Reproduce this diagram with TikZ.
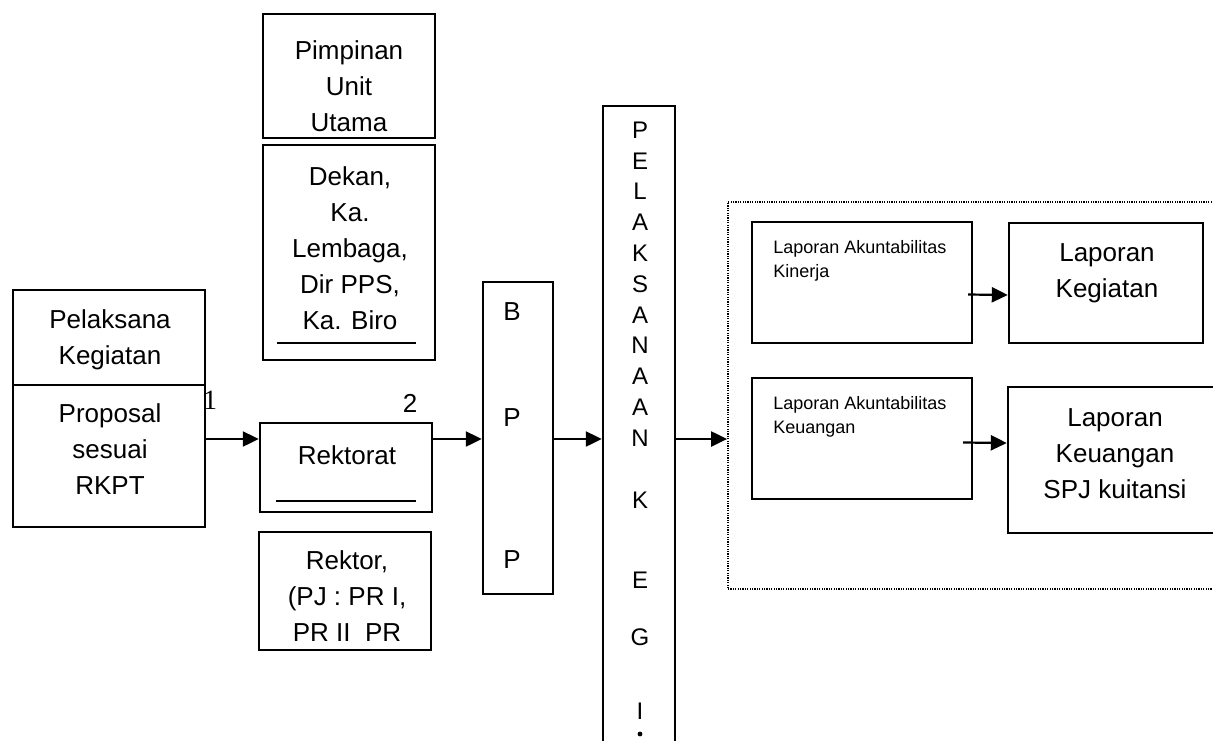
\documentclass[tikz,border=0pt]{standalone}
\usepackage{fontspec}
\setmainfont{Liberation Sans}
\newfontfamily\numfont{Liberation Serif}
\usetikzlibrary{arrows.meta}

\begin{document}
\begin{tikzpicture}[x=0.5pt,y=-0.5pt,
  box/.style={draw,line width=1.2pt,inner sep=0pt,minimum width=86pt},
  txt/.style={inner sep=0pt,align=center,font=\fontsize{13}{18}\selectfont},
  small/.style={inner sep=0pt,align=left,anchor=north west,font=\fontsize{9}{12}\selectfont},
  letter/.style={inner sep=0pt,align=center,font=\fontsize{12}{14}\selectfont},
  arr/.style={line width=1.1pt,-{Triangle[length=8pt,width=7.5pt]}}]
\useasboundingbox (0,0) rectangle (1213,740);
\clip (0,0) rectangle (1213,740);
% pelaksana kegiatan
\node[box,minimum width=96pt,minimum height=47.5pt] (pel) at (109,337.5) {};
\node[box,minimum width=96pt,minimum height=71pt] (prop) at (109,456) {};
\node[txt] (peltxt) at (110,340) {Pelaksana\\Kegiatan};
\node[txt] (proptxt) at (110,449) {Proposal\\sesuai\\RKPT};
\node[inner sep=0pt,font=\numfont\fontsize{14}{16}\selectfont] (one) at (210,400) {1};
% unit utama
\node[box,minimum height=62pt] (pim) at (349,76) {};
\node[box,minimum height=107.5pt] (dek) at (349,252.5) {};
\node[txt] (pimtxt) at (349,86.5) {Pimpinan\\Unit\\Utama};
\node[txt] (dektxt) at (350,248) {Dekan,\\Ka.\\Lembaga,\\Dir PPS,\\Ka. Biro};
\draw[line width=0.9pt] ([xshift=7.5pt,yshift=9pt]dek.south west) -- ([xshift=-10pt,yshift=9pt]dek.south east);
% rektorat
\node[box,minimum height=44.5pt] (rek) at (346,467.5) {};
\node[box,minimum height=59pt] (rkr) at (345,591) {};
\node[txt] (rektxt) at (347,455) {Rektorat};
\draw[line width=0.9pt] ([xshift=8.5pt,yshift=6pt]rek.south west) -- ([xshift=-8.5pt,yshift=6pt]rek.south east);
\node[txt] (rkrtxt) at (347,596) {Rektor,\\(PJ : PR I,\\PR II\ \ PR};
\node[txt] (two) at (410,403) {2};
% BPP
\node[box,minimum width=35pt,minimum height=156pt] (bpp) at (518,438) {};
\node[txt] (bpp1) at (512,312) {B}; \node[txt] (bpp2) at (512,418) {P};
\node[txt] (bpp3) at (512,560) {P};
% pelaksanaan kegiatan
\node[box,minimum width=36pt,minimum height=330pt] (pk) at (639,436) {};
\node[letter] (pk1) at (640,130) {P}; \node[letter] (pk2) at (640,160.8) {E};
\node[letter] (pk3) at (640,191.6) {L}; \node[letter] (pk4) at (640,222.4) {A};
\node[letter] (pk5) at (640,253.2) {K}; \node[letter] (pk6) at (640,284) {S};
\node[letter] (pk7) at (640,314.8) {A}; \node[letter] (pk8) at (640,345.6) {N};
\node[letter] (pk9) at (640,376.4) {A}; \node[letter] (pk10) at (640,407.2) {A};
\node[letter] (pk11) at (640,438) {N}; \node[letter] (pk12) at (640,500) {K};
\node[letter] (pk13) at (640,580) {E}; \node[letter] (pk14) at (640,637) {G};
\node[letter] (pk15) at (640,711) {I}; \fill (640,734) circle (1.2pt);
% laporan
\node[draw,line width=0.9pt,dash pattern=on 0.6pt off 0.6pt,inner sep=0pt,minimum width=251pt,minimum height=193.5pt] (lap) at (979,395.5) {};
\node[box,minimum width=110pt,minimum height=60.5pt] (lak) at (862,282.5) {};
\node[small] (laktxt) at (773,240) {Laporan Akuntabilitas\\Kinerja};
\node[box,minimum width=97pt,minimum height=60pt] (lk) at (1106,283) {};
\node[txt] (lktxt) at (1107,273) {Laporan\\Kegiatan};
\node[box,minimum width=110pt,minimum height=60.5pt] (lakeu) at (862,438.5) {};
\node[small] (lakeutxt) at (773,396) {Laporan Akuntabilitas\\Keuangan};
\node[box,minimum width=107pt,minimum height=73pt] (lkeu) at (1115,460) {};
\node[txt] (lkeutxt) at (1115,453.5) {Laporan\\Keuangan\\SPJ kuitansi};
% arrows
\coordinate (row) at (0,439);
\draw[arr] (prop.east |- row) -- (rek.west |- row);
\draw[arr] (rek.east |- row) -- (bpp.west |- row);
\draw[arr] (bpp.east |- row) -- (pk.west |- row);
\draw[arr] (pk.east |- row) -- (lap.west |- row);
\draw[arr] ([xshift=-2.5pt,yshift=-6pt]lak.east) -- ([yshift=-6pt]lk.west);
\draw[arr] ([xshift=-5pt,yshift=-2pt]lakeu.east) -- ([yshift=8.5pt]lkeu.west);
\end{tikzpicture}
\end{document}
